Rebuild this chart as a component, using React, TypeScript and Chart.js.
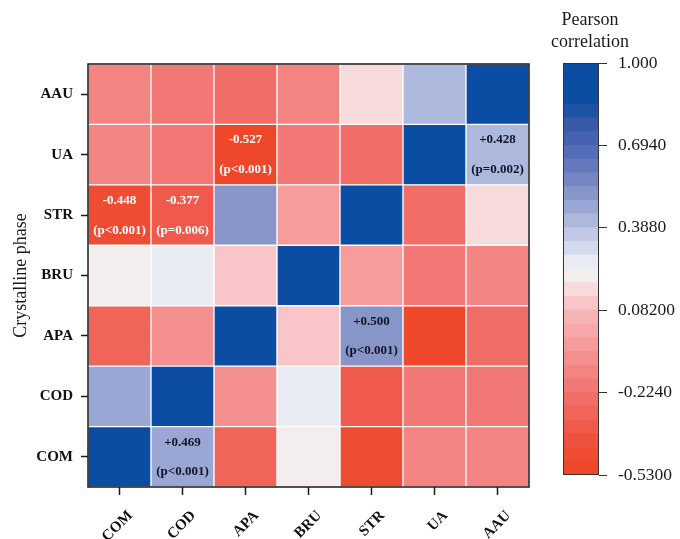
import React, { useEffect, useRef } from 'react';
import { Chart, registerables } from 'chart.js';

Chart.register(...registerables);

// ---------- DATA ----------
const categories = ['COM', 'COD', 'APA', 'BRU', 'STR', 'UA', 'AAU'];
// each row: correlation of that phase with [COM, COD, APA, BRU, STR, UA, AAU]
const rowCOM = [1, 0.469, -0.3, 0.21, -0.448, -0.15, -0.14];
const rowCOD = [0.469, 1, -0.08, 0.28, -0.377, -0.22, -0.18];
const rowAPA = [-0.3, -0.08, 1, 0.12, 0.5, -0.527, -0.25];
const rowBRU = [0.21, 0.28, 0.12, 1, -0.07, -0.18, -0.15];
const rowSTR = [-0.448, -0.377, 0.5, -0.07, 1, -0.24, 0.16];
const rowUA = [-0.15, -0.22, -0.527, -0.18, -0.24, 1, 0.428];
const rowAAU = [-0.14, -0.18, -0.25, -0.15, 0.16, 0.428, 1];
const rows = [rowCOM, rowCOD, rowAPA, rowBRU, rowSTR, rowUA, rowAAU];

const annotRows = ['UA', 'UA', 'STR', 'STR', 'APA', 'COM'];
const annotCols = ['APA', 'AAU', 'COM', 'COD', 'STR', 'COD'];
const annotValues = ['-0.527', '+0.428', '-0.448', '-0.377', '+0.500', '+0.469'];
const annotP = ['(p<0.001)', '(p=0.002)', '(p<0.001)', '(p=0.006)', '(p<0.001)', '(p<0.001)'];

const colorbarMin = -0.53;
const colorbarMax = 1.0;
const colorbarTicks = [-0.53, -0.224, 0.082, 0.388, 0.694, 1.0];
const colorbarTickLabels = ['-0.5300', '-0.2240', '0.08200', '0.3880', '0.6940', '1.000'];
const colorbarTitle = ['Pearson', 'correlation'];
const yTitle = 'Crystalline phase';

// ---------- STYLE ----------
const SERIF = '"Liberation Serif", "Times New Roman", serif';
const BANDS = 30;
const cmapStops: [number, string][] = [
  [-0.53, '#EE4423'],
  [-0.4, '#EF5140'],
  [-0.3, '#F06459'],
  [-0.22, '#F17370'],
  [-0.14, '#F38683'],
  [-0.05, '#F69B9C'],
  [0.05, '#F7B2B5'],
  [0.13, '#F8CDD1'],
  [0.2, '#F6EDEC'],
  [0.26, '#E9ECF2'],
  [0.33, '#CDD4EB'],
  [0.42, '#ABB6DC'],
  [0.52, '#8593C8'],
  [0.65, '#5A70B8'],
  [0.78, '#3458A8'],
  [0.86, '#0A4DA2'],
  [1.0, '#0A4DA2'],
];

function hexToRgb(h: string) {
  const n = parseInt(h.slice(1), 16);
  return [(n >> 16) & 255, (n >> 8) & 255, n & 255];
}
function interp(v: number) {
  if (v <= cmapStops[0][0]) return cmapStops[0][1];
  for (let i = 1; i < cmapStops.length; i++) {
    const [v1, c1] = cmapStops[i];
    const [v0, c0] = cmapStops[i - 1];
    if (v <= v1) {
      const t = (v - v0) / (v1 - v0);
      const a = hexToRgb(c0);
      const b = hexToRgb(c1);
      const r = a.map((x, k) => Math.round(x + (b[k] - x) * t));
      return `rgb(${r[0]},${r[1]},${r[2]})`;
    }
  }
  return cmapStops[cmapStops.length - 1][1];
}
const bandW = (colorbarMax - colorbarMin) / BANDS;
function bandIndex(v: number) {
  return Math.max(0, Math.min(BANDS - 1, Math.floor((v - colorbarMin) / bandW)));
}
function colorFor(v: number) {
  const i = bandIndex(v);
  return interp(colorbarMin + (i + 0.5) * bandW);
}

const heatPlugin = {
  id: 'heatExtras',
  afterDatasetsDraw(chart: any) {
    const { ctx, scales } = chart;
    const xs = scales.x;
    const ys = scales.y;
    ctx.save();
    ctx.font = `bold 13px ${SERIF}`;
    ctx.textAlign = 'center';
    ctx.textBaseline = 'middle';
    for (let i = 0; i < annotRows.length; i++) {
      const r = categories.indexOf(annotRows[i]);
      const c = categories.indexOf(annotCols[i]);
      const x = xs.getPixelForValue(c);
      const yTop = ys.getPixelForValue(r + 1);
      const yBot = ys.getPixelForValue(r);
      const yc = (yTop + yBot) / 2;
      const h = yBot - yTop;
      const v = rows[r][c];
      ctx.fillStyle = v > 0 ? '#141428' : '#ffffff';
      ctx.fillText(annotValues[i], x, yc - h * 0.24);
      ctx.fillText(annotP[i], x, yc + h * 0.25);
    }
    ctx.restore();
  },
  afterDraw(chart: any) {
    const { ctx, chartArea } = chart;
    ctx.save();
    ctx.strokeStyle = '#1a1a1a';
    ctx.lineWidth = 1.5;
    ctx.strokeRect(chartArea.left, chartArea.top, chartArea.right - chartArea.left, chartArea.bottom - chartArea.top);
    ctx.restore();
  },
};

const cbarPlugin = {
  id: 'cbarExtras',
  afterDraw(chart: any) {
    const { ctx, chartArea } = chart;
    ctx.save();
    ctx.strokeStyle = '#333';
    ctx.lineWidth = 1;
    ctx.strokeRect(chartArea.left + 0.5, chartArea.top + 0.5, chartArea.right - chartArea.left - 1, chartArea.bottom - chartArea.top - 1);
    const cx = (chartArea.left + chartArea.right) / 2 + 9;
    ctx.fillStyle = '#1a1a1a';
    ctx.font = `18px ${SERIF}`;
    ctx.textAlign = 'center';
    ctx.textBaseline = 'middle';
    ctx.fillText(colorbarTitle[0], cx, 20);
    ctx.fillText(colorbarTitle[1], cx, 42);
    ctx.restore();
  },
};

export default function App() {
  const mainRef = useRef<HTMLCanvasElement>(null);
  const barRef = useRef<HTMLCanvasElement>(null);

  useEffect(() => {
    const datasets = rows.map((row, r) => ({
      label: categories[r],
      data: categories.map(() => 1),
      backgroundColor: row.map((v) => colorFor(v)),
      borderColor: '#ffffff',
      borderWidth: 1,
      borderSkipped: false as any,
      barPercentage: 1,
      categoryPercentage: 1,
    }));

    const main = new Chart(mainRef.current!, {
      type: 'bar',
      data: { labels: categories, datasets },
      plugins: [heatPlugin],
      options: {
        responsive: false,
        animation: false,
        layout: { padding: { top: 64, right: 16, bottom: 0, left: 0 } },
        plugins: { legend: { display: false }, tooltip: { enabled: false }, title: { display: false } },
        scales: {
          x: {
            stacked: true,
            offset: true,
            grid: { display: true, offset: false, drawOnChartArea: false, drawTicks: true, tickLength: 8, tickColor: '#1a1a1a', tickWidth: 1.5 },
            border: { display: false },
            ticks: {
              minRotation: 45,
              maxRotation: 45,
              padding: 12,
              labelOffset: 11,
              color: '#111',
              font: { family: SERIF, size: 15, weight: 'bold' },
            },
            afterFit: (axis: any) => {
              axis.height = 52;
            },
          },
          y: {
            stacked: true,
            min: 0,
            max: 7,
            grid: { display: true, drawOnChartArea: false, drawTicks: true, tickLength: 7, tickColor: '#1a1a1a', tickWidth: 1.5 },
            border: { display: false },
            afterBuildTicks: (axis: any) => {
              axis.ticks = categories.map((_, i) => ({ value: i + 0.5 }));
            },
            ticks: {
              padding: 8,
              color: '#111',
              font: { family: SERIF, size: 15, weight: 'bold' },
              callback: (v: any) => categories[Math.floor(Number(v))],
            },
            title: {
              display: true,
              text: yTitle,
              color: '#1a1a1a',
              font: { family: SERIF, size: 18 },
              padding: { top: 10, bottom: 0 },
            },
            afterFit: (axis: any) => {
              axis.width = 88;
            },
          },
        },
      } as any,
    });

    const bandDatasets = Array.from({ length: BANDS }, (_, i) => {
      const lo = colorbarMin + i * bandW;
      const hi = lo + bandW;
      return {
        data: [[lo, hi + 0.0005]],
        backgroundColor: interp(lo + bandW / 2),
        borderWidth: 0,
        grouped: false,
        barPercentage: 1,
        categoryPercentage: 1,
      };
    });

    const cbar = new Chart(barRef.current!, {
      type: 'bar',
      data: { labels: [''], datasets: bandDatasets as any },
      plugins: [cbarPlugin],
      options: {
        responsive: false,
        animation: false,
        layout: { padding: { top: 63, right: 0, bottom: 64, left: 33 } },
        plugins: { legend: { display: false }, tooltip: { enabled: false } },
        scales: {
          x: { display: false },
          y: {
            position: 'right',
            min: colorbarMin,
            max: colorbarMax,
            grid: { display: true, drawOnChartArea: false, drawTicks: true, tickLength: 8, tickColor: '#333', tickWidth: 1 },
            border: { display: false },
            afterBuildTicks: (axis: any) => {
              axis.ticks = colorbarTicks.map((v) => ({ value: v }));
            },
            ticks: {
              padding: 11,
              color: '#1a1a1a',
              font: { family: SERIF, size: 17.5 },
              callback: (v: any) => {
                const idx = colorbarTicks.findIndex((t) => Math.abs(t - Number(v)) < 1e-6);
                return idx >= 0 ? colorbarTickLabels[idx] : '';
              },
            },
            afterFit: (axis: any) => {
              axis.width = 81;
            },
          },
        },
      } as any,
    });

    return () => {
      main.destroy();
      cbar.destroy();
    };
  }, []);

  return (
    <div style={{ position: 'absolute', left: 0, top: 0, width: 680, height: 539, background: '#fff', overflow: 'hidden' }}>
      <canvas ref={mainRef} width={545} height={539} style={{ position: 'absolute', left: 0, top: 0 }} />
      <canvas ref={barRef} width={150} height={539} style={{ position: 'absolute', left: 530, top: 0 }} />
    </div>
  );
}
